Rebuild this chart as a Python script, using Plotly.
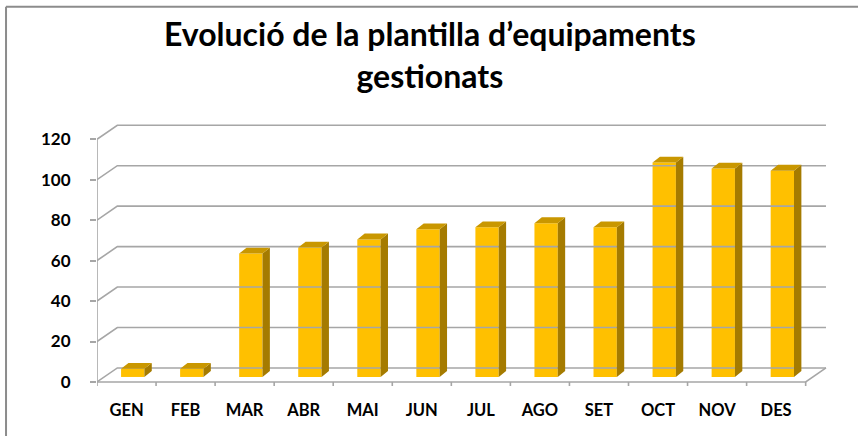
import plotly.graph_objects as go

# ---- data ----
months = ["GEN", "FEB", "MAR", "ABR", "MAI", "JUN", "JUL", "AGO", "SET", "OCT", "NOV", "DES"]
values = [4, 4, 61, 64, 68, 73, 74, 76, 74, 106, 103, 102]
y_ticks = [0, 20, 40, 60, 80, 100, 120]
title_lines = ["Evolució de la plantilla d’equipaments", "gestionats"]

# ---- styling / pseudo-3D geometry (in axis units) ----
FONT = "Lato"
GRID = "#a6a6a6"
FRONT = "#FFC000"
TOP = "#C99700"
SIDE = "#A57B00"
WALL_DX = 0.344   # wall depth along x (category units)
WALL_DY = 6.92    # wall depth along y (value units)
BAR_SHIFT = 0.105
BAR_BASE = 2.47
BAR_W = 0.395
BAR_DX = 0.125
BAR_DY = 2.9

n = len(months)
xs = list(range(n))
x0, x1 = -0.5, n - 0.5

fig = go.Figure()

# back wall gridlines + left wall diagonals
gx, gy = [], []
for v in y_ticks:
    gx += [x0, x0 + WALL_DX, x1 + WALL_DX, None]
    gy += [v, v + WALL_DY, v + WALL_DY, None]
# floor front edge and right diagonal
gx += [x0, x1, x1 + WALL_DX, None]
gy += [0, 0, WALL_DY, None]
# front vertical axis
gx += [x0, x0, None]
gy += [0, y_ticks[-1], None]
# category boundary ticks
for k in range(n + 1):
    gx += [x0 + k, x0 + k, None]
    gy += [0, -2.6, None]
fig.add_trace(go.Scatter(x=gx, y=gy, mode="lines", line=dict(color=GRID, width=1.6),
                         hoverinfo="skip", showlegend=False))

# bar side and top faces
sx, sy = [], []
tx, ty = [], []
for i, v in zip(xs, values):
    xl = i + BAR_SHIFT - BAR_W / 2
    xr = i + BAR_SHIFT + BAR_W / 2
    b = BAR_BASE
    t = BAR_BASE + v
    sx += [xr, xr + BAR_DX, xr + BAR_DX, xr, xr, None]
    sy += [b, b + BAR_DY, t + BAR_DY, t, b, None]
    tx += [xl, xr, xr + BAR_DX, xl + BAR_DX, xl, None]
    ty += [t, t, t + BAR_DY, t + BAR_DY, t, None]
fig.add_trace(go.Scatter(x=sx, y=sy, mode="lines", fill="toself", fillcolor=SIDE,
                         line=dict(width=0), hoverinfo="skip", showlegend=False))
fig.add_trace(go.Scatter(x=tx, y=ty, mode="lines", fill="toself", fillcolor=TOP,
                         line=dict(width=0), hoverinfo="skip", showlegend=False))

# bar front faces
fig.add_trace(go.Bar(x=[i + BAR_SHIFT for i in xs], y=values, base=BAR_BASE, width=BAR_W,
                     marker=dict(color=FRONT, line=dict(width=0)), showlegend=False,
                     hovertext=months))

title_font = dict(family=FONT, size=32, color="#000000", weight="bold")
fig.update_layout(
    width=858, height=436,
    margin=dict(l=97, r=11, t=119, b=50, autoexpand=False),
    paper_bgcolor="white", plot_bgcolor="white",
    font=dict(family=FONT, color="#000000"),
    xaxis=dict(range=[x0, n + 0.2], tickvals=xs, ticktext=months, showgrid=False,
               zeroline=False, showline=False, ticks="", ticklabelstandoff=12,
               automargin=False,
               tickfont=dict(family=FONT, size=16.5, color="#000000", weight="bold")),
    yaxis=dict(range=[-2, 130], tickvals=y_ticks, showgrid=False, zeroline=False,
               showline=False, ticks="outside", ticklen=6, tickcolor=GRID, tickwidth=1.6,
               ticklabelstandoff=16, automargin=False,
               tickfont=dict(family=FONT, size=17, color="#000000", weight="bold")),
    annotations=[
        dict(text="<br>".join(title_lines), xref="paper", yref="paper", x=0.444, y=1.24,
             xanchor="center", yanchor="middle", showarrow=False, font=title_font),
    ],
    shapes=[
        dict(type="line", xref="paper", yref="paper", x0=-0.1213, x1=1.1, y0=1.42, y1=1.42,
             line=dict(color="#8c8c8c", width=2)),
        dict(type="line", xref="paper", yref="paper", x0=-0.1213, x1=-0.1213, y0=-0.3, y1=1.42,
             line=dict(color="#8c8c8c", width=2)),
    ],
)

fig.write_html("out.html", config={"displayModeBar": False},
               post_script="document.body.style.margin='0';")
